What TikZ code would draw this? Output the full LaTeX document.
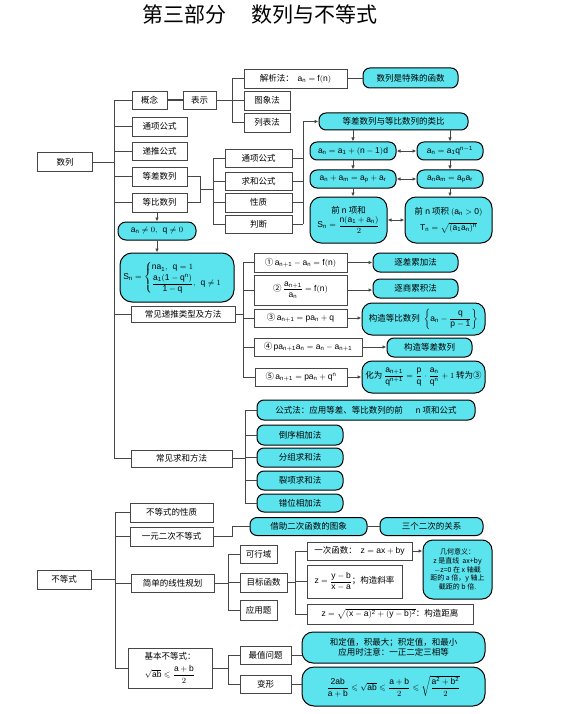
\documentclass[tikz,border=0pt]{standalone}
\usepackage{amsmath,amssymb}
\usepackage{fontspec}
\setmainfont{Liberation Sans}
\newfontfamily\cjk{Noto Sans CJK SC}
\usetikzlibrary{arrows.meta,calc}
\definecolor{cyanf}{RGB}{92,228,238}
\definecolor{linec}{RGB}{70,70,70}
\newcommand\mr[1]{\mathrm{#1}}
\tikzset{
  wh/.style 2 args={minimum width=#1, minimum height=#2},
  box/.style={draw=linec, line width=0.8pt, fill=white, inner sep=1pt, align=center,
    font=\cjk\fontsize{8.5}{10}\selectfont},
  cbox/.style={draw=black, line width=1pt, fill=cyanf, rounded corners=7pt, inner sep=1pt, align=center,
    font=\cjk\fontsize{8.5}{10}\selectfont},
  conn/.style={draw=linec, line width=0.9pt},
  thick conn/.style={draw=linec, line width=1.6pt},
  arr/.style={conn, -{Latex[length=4pt,width=3.5pt]}},
  darr/.style={conn, {Latex[length=4pt,width=3.5pt]}-{Latex[length=4pt,width=3.5pt]}},
}
\begin{document}
\begin{tikzpicture}[x=1pt,y=-1pt]
\path[use as bounding box] (0,0) rectangle (561,714);
\node[font=\cjk\fontsize{21}{24}\selectfont] (title) at (260,15) {第三部分\hspace{1.2em}数列与不等式};

% ---------- left column
\node[box,wh={55}{19}] (shulie) at (65,162) {数列};
\node[box,wh={35}{18}] (gainian) at (149.5,100) {概念};
\node[box,wh={33}{18}] (biaoshi) at (199.5,100) {表示};
\node[box,wh={55}{19}] (tongxiang) at (159.5,126.5) {通项公式};
\node[box,wh={55}{18}] (digui) at (159.5,151) {递推公式};
\node[box,wh={55}{19}] (dengcha) at (159.5,176.5) {等差数列};
\node[box,wh={55}{19}] (dengbi) at (159.5,202.5) {等比数列};
\node[cbox,wh={78}{18},rounded corners=8pt] (neq) at (157,231) {$\mr{a_n}\neq 0,\ \ \mr{q}\neq 0$};
\node[cbox,wh={114}{49},rounded corners=12pt] (Sn) at (177,277.5) {$\mr{S_n}=\begin{cases}\mr{na_1},\ \ \mr{q}=1\\[1pt] \dfrac{\mr{a_1(1-q^n)}}{\mr{1-q}},\ \ \mr{q}\neq 1\end{cases}$};
\node[box,wh={104}{16}] (ditui) at (183,314) {常见递推类型及方法};
\node[box,wh={101}{17}] (qiuhe) at (181.5,458.5) {常见求和方法};

% ---------- representation
\node[box,wh={103}{19}] (jiexi) at (295.5,78.5) {解析法：\ \ $\mr{a_n=f(n)}$};
\node[box,wh={46}{19}] (tuxiang) at (267,100.5) {图象法};
\node[box,wh={46}{19}] (liebiao) at (267,122.5) {列表法};
\node[cbox,wh={95}{20}] (hanshu) at (410.5,78) {数列是特殊的函数};

% ---------- arithmetic / geometric
\node[box,wh={67}{18}] (tx2) at (258.5,158) {通项公式};
\node[box,wh={67}{18}] (qh2) at (258.5,181) {求和公式};
\node[box,wh={67}{19}] (xz) at (258.5,202.5) {性质};
\node[box,wh={67}{18}] (pd) at (258.5,224) {判断};
\node[cbox,wh={149}{17}] (leibi) at (393.5,121.5) {等差数列与等比数列的类比};
\node[cbox,wh={86}{18}] (r1a) at (353,151) {$\mr{a_n=a_1+(n-1)d}$};
\node[cbox,wh={66}{18}] (r1b) at (450,151) {$\mr{a_n=a_1q^{n-1}}$};
\node[cbox,wh={86}{18}] (r2a) at (353,179) {$\mr{a_n+a_m=a_p+a_r}$};
\node[cbox,wh={66}{18}] (r2b) at (450,179) {$\mr{a_na_m=a_pa_r}$};
\node[cbox,wh={77}{46},rounded corners=11pt] (r3a) at (348.5,220) {前\ n 项和\\[1pt]$\mr{S_n}=\dfrac{\mr{n(a_1+a_n)}}{2}$};
\node[cbox,wh={87}{46},rounded corners=11pt] (r3b) at (448.5,220) {前\ n 项积 $\mr{(a_n>0)}$\\[6pt]$\mr{T_n}=\sqrt{\mr{(a_1a_n)^n}}$};

% ---------- recurrences
\node[box,wh={93}{19}] (d1) at (300.5,262.5) {①\,$\mr{a_{n+1}-a_n=f(n)}$};
\node[box,wh={93}{30}] (d2) at (300.5,290) {②\,$\dfrac{\mr{a_{n+1}}}{\mr{a_n}}=\mr{f(n)}$};
\node[box,wh={93}{18}] (d3) at (300.5,318) {③\,$\mr{a_{n+1}=pa_n+q}$};
\node[box,wh={108}{18}] (d4) at (308,347) {④\,$\mr{pa_{n+1}a_n=a_n-a_{n+1}}$};
\node[box,wh={92}{18}] (d5) at (301,377) {⑤\,$\mr{a_{n+1}=pa_n+q^n}$};
\node[cbox,wh={85}{19}] (c1) at (415.5,262.5) {逐差累加法};
\node[cbox,wh={85}{19}] (c2) at (415.5,288.5) {逐商累积法};
\node[cbox,wh={123}{32},rounded corners=10pt] (c3) at (423.5,319) {构造等比数列\ \ $\left\{\mr{a_n}-\dfrac{\mr{q}}{\mr{p-1}}\right\}$};
\node[cbox,wh={85}{19}] (c4) at (429.5,347.5) {构造等差数列};
\node[cbox,wh={123}{32},rounded corners=10pt] (c5) at (423.5,377) {化为 $\dfrac{\mr{a_{n+1}}}{\mr{q^{n+1}}}=\dfrac{\mr{p}}{\mr{q}}\cdot\dfrac{\mr{a_n}}{\mr{q^n}}+1$ 转为③};

% ---------- sums
\node[cbox,wh={218}{20}] (s1) at (366,410) {公式法：应用等差、等比数列的前\hspace{1.5em}n 项和公式};
\node[cbox,wh={86}{20}] (s2) at (300,435) {倒序相加法};
\node[cbox,wh={86}{19}] (s3) at (300,457.5) {分组求和法};
\node[cbox,wh={86}{19}] (s4) at (300,480.5) {裂项求和法};
\node[cbox,wh={86}{18}] (s5) at (300,503) {错位相加法};

% ---------- inequalities
\node[box,wh={54}{19}] (bds) at (64,579.5) {不等式};
\node[box,wh={83}{19}] (xz3) at (171.5,512.5) {不等式的性质};
\node[box,wh={83}{19}] (yyec) at (171.5,536.5) {一元二次不等式};
\node[box,wh={83}{18}] (xxgh) at (172.5,583) {简单的线性规划};
\node[box,wh={84}{40}] (jbbds) at (170,668) {基本不等式：\\[4pt]$\sqrt{\mr{ab}}\leqslant\dfrac{\mr{a+b}}{2}$};
\node[cbox,wh={117}{18}] (jiezhu) at (308.5,526.5) {借助二次函数的图象};
\node[cbox,wh={103}{18}] (sange) at (431.5,526.5) {三个二次的关系};
\node[box,wh={37}{18}] (kxy) at (258.5,554) {可行域};
\node[box,wh={47}{19}] (mbhs) at (263.5,582.5) {目标函数};
\node[box,wh={37}{20}] (yyt) at (258.5,610) {应用题};
\node[box,wh={105}{18}] (ycf) at (359.5,551) {一次函数：\ \ $\mr{z=ax+by}$};
\node[box,wh={95}{33}] (xl) at (354.5,581.5) {$\mr{z}=\dfrac{\mr{y-b}}{\mr{x-a}}$；构造斜率};
\node[box,wh={166}{20}] (jl) at (390,614) {$\mr{z}=\sqrt{\mr{(x-a)^2+(y-b)^2}}$：构造距离};
\node[cbox,wh={69}{59},rounded corners=10pt,font=\cjk\fontsize{7}{8.6}\selectfont] (jhyy) at (457.5,569.5) {几何意义：\\z 是直线\ \ ax+by\\$-$z=0 在 x 轴截\\距的 a 倍，y 轴上\\截距的 b 倍.};
\node[box,wh={51}{18}] (zzwt) at (265.5,655) {最值问题};
\node[box,wh={51}{18}] (bx) at (265.5,684) {变形};
\node[cbox,wh={183}{31},rounded corners=11pt] (hdz) at (393.5,647.5) {和定值，积最大；积定值，和最小\\应用时注意：一正二定三相等};
\node[cbox,wh={183}{39},rounded corners=12pt] (bxc) at (393.5,686.5) {$\dfrac{\mr{2ab}}{\mr{a+b}}\leqslant\sqrt{\mr{ab}}\leqslant\dfrac{\mr{a+b}}{2}\leqslant\sqrt{\dfrac{\mr{a^2+b^2}}{2}}$};

% ================= connectors
\coordinate (T1) at (114,100);
\coordinate (T2) at (114,458.5);
\draw[conn] (shulie.east) -- (shulie.east -| T1);
\draw[conn] (T1) -- (T2);
\foreach \n in {gainian,tongxiang,digui,dengcha,dengbi,ditui,qiuhe}
  \draw[conn] (\n.west -| T1) -- (\n.west);
\draw[thick conn] (gainian.east) -- (biaoshi.west);
\draw[thick conn] (T1 |- tongxiang.west) -- (tongxiang.west);

\coordinate (B1) at (232,78.5);
\coordinate (B2) at (232,122.5);
\draw[conn] (biaoshi.east) -- (biaoshi.east -| B1);
\draw[conn] (B1) -- (B2);
\foreach \n in {jiexi,tuxiang,liebiao}
  \draw[conn] (\n.west -| B1) -- (\n.west);
\draw[conn] (jiexi.east) -- (jiexi.east -| hanshu.west);

% arithmetic/geometric merge
\coordinate (M1) at (200,176.5);
\coordinate (M2) at (200,202.5);
\coordinate (M3) at (213,158);
\coordinate (M4) at (213,224);
\draw[conn] (dengcha.east) -- (M1) -- (M2) -- (dengbi.east);
\draw[thick conn] (200,189.5) -- (213,189.5);
\draw[conn] (M3) -- (M4);
\foreach \n in {tx2,qh2,xz,pd}
  \draw[conn] (\n.west -| M3) -- (\n.west);
\coordinate (R1) at (303,121.5);
\coordinate (R2) at (303,224);
\foreach \n in {tx2,qh2,xz,pd}
  \draw[conn] (\n.east) -- (\n.east -| R1);
\draw[conn] (R1) -- (R2);
\draw[arr] (R1) -- (leibi.west);
\draw[arr] (leibi.south -| r1a) -- (r1a.north);
\draw[arr] (leibi.south -| r1b) -- (r1b.north);
\draw[arr] (r1a.south) -- (r2a.north);
\draw[arr] (r1b.south) -- (r2b.north);
\draw[arr] (r2a.south) -- (r2a.south |- r3a.north);
\draw[arr] (r2b.south) -- (r2b.south |- r3b.north);
\draw[darr] (r1a.east) -- (r1b.west);
\draw[darr] (r2a.east) -- (r2b.west);
\draw[darr] (r3a.east) -- (r3b.west);
\draw[arr] (dengbi.south -| neq) -- (neq.north);
\draw[arr] (neq.south) -- (neq.south |- Sn.north);

% recurrences
\coordinate (D1) at (243,262.5);
\coordinate (D2) at (243,377);
\draw[conn] (ditui.east) -- (ditui.east -| D1);
\draw[conn] (D1) -- (D2);
\foreach \n in {d1,d2,d3,d4,d5}
  \draw[conn] (\n.west -| D1) -- (\n.west);
\draw[arr] (d1.east) -- (d1.east -| c1.west);
\draw[arr] (d2.east) -- (d2.east -| c2.west);
\draw[arr] (d3.east) -- (d3.east -| c3.west);
\draw[arr] (d4.east) -- (d4.east -| c4.west);
\draw[arr] (d5.east) -- (d5.east -| c5.west);

% sums
\coordinate (S1) at (245,410);
\coordinate (S2) at (245,503);
\draw[conn] (qiuhe.east) -- (qiuhe.east -| S1);
\draw[conn] (S1) -- (S2);
\foreach \n in {s1,s2,s3,s4,s5}
  \draw[conn] (\n.west -| S1) -- (\n.west);

% inequalities
\coordinate (I1) at (115,512.5);
\coordinate (I2) at (115,668);
\draw[conn] (bds.east) -- (bds.east -| I1);
\draw[conn] (I1) -- (I2);
\foreach \n in {xz3,yyec,xxgh,jbbds}
  \draw[conn] (\n.west -| I1) -- (\n.west);
\draw[conn] (yyec.east) -- ++(19,0) |- (jiezhu.west);
\draw[conn] (jiezhu.east) -- (sange.west);

\coordinate (L1) at (228,554);
\coordinate (L2) at (228,610);
\draw[conn] (xxgh.east) -- (xxgh.east -| L1);
\draw[conn] (L1) -- (L2);
\foreach \n in {kxy,mbhs,yyt}
  \draw[conn] (\n.west -| L1) -- (\n.west);
\coordinate (G1) at (295,551);
\coordinate (G2) at (295,614);
\draw[conn] (mbhs.east) -- (mbhs.east -| G1);
\draw[conn] (G1) -- (G2);
\foreach \n in {ycf,xl,jl}
  \draw[conn] (\n.west -| G1) -- (\n.west);
\draw[arr] (ycf.east) -- (ycf.east -| jhyy.west);

\coordinate (J1) at (228,655);
\coordinate (J2) at (228,684);
\draw[conn] (jbbds.east) -- (jbbds.east -| J1);
\draw[conn] (J1) -- (J2);
\foreach \n in {zzwt,bx}
  \draw[conn] (\n.west -| J1) -- (\n.west);
\draw[conn] (zzwt.east) -- (zzwt.east -| hdz.west);
\draw[conn] (bx.east) -- (bx.east -| bxc.west);
\end{tikzpicture}
\end{document}
